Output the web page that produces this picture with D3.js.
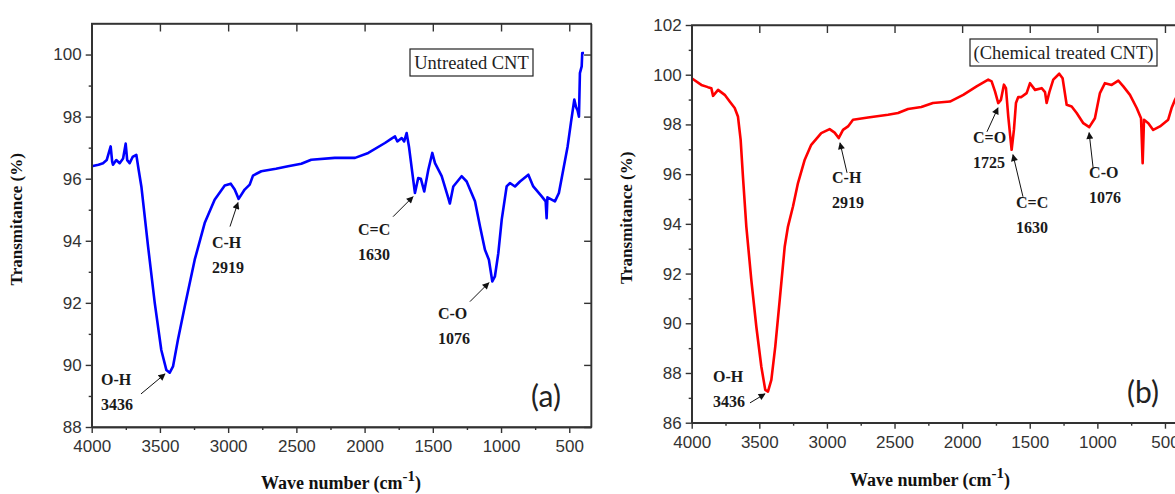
<!DOCTYPE html>
<html>
  <head>
	  <meta charset="utf-8">
	  <script src="https://d3js.org/d3.v7.min.js"></script>
	  <style type="text/css">
body{
	margin: 0;
	background: white;
}
svg{
	display: block;
}
.tick text{
	font-family: "Liberation Sans", Arial, sans-serif;
	font-size: 17px;
	fill: #333;
}
.ann{
	font-family: "Liberation Serif", "Times New Roman", serif;
	font-weight: bold;
	font-size: 16px;
	fill: #1a1a1a;
}
.title{
	font-family: "Liberation Serif", "Times New Roman", serif;
	font-weight: bold;
	font-size: 17px;
	fill: #111;
}
	  </style>
  </head>
  <body>
	<script>
		// untreated CNT (blue)
		var untreatedWn = [4000, 3950, 3917, 3890, 3861, 3850, 3844, 3820, 3795, 3770, 3751, 3740, 3722, 3700, 3673, 3656, 3636, 3617, 3587, 3538, 3490, 3453, 3428, 3404, 3368, 3318, 3245, 3172, 3099, 3025, 2981, 2952, 2923, 2879, 2842, 2818, 2757, 2650, 2561, 2464, 2391, 2219, 2070, 1973, 1851, 1800, 1777, 1760, 1728, 1710, 1692, 1675, 1650, 1631, 1607, 1588, 1563, 1533, 1504, 1484, 1435, 1387, 1375, 1350, 1289, 1252, 1191, 1154, 1118, 1089, 1064, 1045, 1020, 995, 959, 935, 898, 861, 800, 764, 702, 673, 666, 660, 605, 576, 544, 512, 488, 463, 450, 439, 429, 422, 409, 405, 392];
		var untreatedT  = [96.40, 96.45, 96.50, 96.60, 97.04, 96.55, 96.45, 96.60, 96.50, 96.65, 97.13, 96.60, 96.50, 96.70, 96.77, 96.29, 95.75, 95.00, 93.82, 92.00, 90.48, 89.84, 89.75, 89.95, 90.81, 91.88, 93.39, 94.57, 95.32, 95.78, 95.84, 95.65, 95.35, 95.65, 95.81, 96.10, 96.24, 96.32, 96.40, 96.48, 96.61, 96.67, 96.67, 96.83, 97.15, 97.30, 97.36, 97.20, 97.31, 97.20, 97.47, 97.04, 96.18, 95.54, 96.02, 96.00, 95.59, 96.29, 96.83, 96.50, 96.08, 95.38, 95.20, 95.75, 96.08, 95.91, 95.27, 94.46, 93.71, 93.39, 92.69, 92.85, 93.60, 94.68, 95.75, 95.86, 95.75, 95.91, 96.13, 95.75, 95.43, 95.27, 94.73, 95.40, 95.27, 95.54, 96.29, 97.04, 97.80, 98.55, 98.30, 98.20, 98.00, 99.40, 99.62, 100.05, 100.05];

		// chemical treated CNT (red)
		var treatedWn = [4000, 3929, 3880, 3855, 3842, 3805, 3756, 3719, 3682, 3658, 3638, 3621, 3596, 3559, 3522, 3485, 3456, 3436, 3411, 3382, 3349, 3312, 3288, 3251, 3214, 3164, 3116, 3042, 2980, 2943, 2913, 2881, 2844, 2807, 2696, 2548, 2474, 2400, 2302, 2216, 2090, 1992, 1893, 1807, 1782, 1757, 1733, 1713, 1691, 1676, 1659, 1634, 1617, 1602, 1585, 1562, 1523, 1498, 1461, 1412, 1387, 1375, 1355, 1326, 1282, 1257, 1227, 1190, 1153, 1104, 1060, 1018, 981, 944, 894, 845, 808, 759, 709, 677, 665, 655, 623, 587, 537, 476, 451, 426, 405];
		var treatedT  = [99.86, 99.59, 99.50, 99.46, 99.15, 99.39, 99.19, 98.92, 98.66, 98.32, 97.38, 95.90, 93.89, 91.74, 89.86, 88.25, 87.32, 87.25, 87.72, 89.06, 90.94, 93.09, 93.89, 94.70, 95.64, 96.58, 97.18, 97.65, 97.81, 97.67, 97.45, 97.78, 97.92, 98.19, 98.28, 98.39, 98.46, 98.62, 98.70, 98.86, 98.92, 99.19, 99.53, 99.80, 99.73, 99.33, 98.86, 98.99, 99.60, 99.46, 98.32, 96.98, 97.78, 98.86, 99.10, 99.10, 99.26, 99.66, 99.39, 99.46, 99.30, 98.86, 99.30, 99.80, 100.04, 99.86, 98.79, 98.72, 98.46, 98.05, 97.89, 98.25, 99.26, 99.66, 99.59, 99.76, 99.53, 99.19, 98.66, 98.25, 96.44, 98.19, 98.05, 97.78, 97.92, 98.19, 98.66, 98.99, 99.20];

		var xTicks = [4000, 3500, 3000, 2500, 2000, 1500, 1000, 500];
		var xMinor = [3750, 3250, 2750, 2250, 1750, 1250, 750];
		var yTicksA = [88, 90, 92, 94, 96, 98, 100];
		var yTicksB = [86, 88, 90, 92, 94, 96, 98, 100, 102];

		// peak labels: tip at [wn, T], tail / text offsets in px
		var annA = [
			{name:"O-H", num:"3436", wn:3463, t:89.71, tail:[-24, 20], txt:[-64, 11]},
			{name:"C-H", num:"2919", wn:2928, t:95.23, tail:[-8, 24], txt:[-26, 45]},
			{name:"C=C", num:"1630", wn:1645, t:95.42, tail:[-20, 20], txt:[-55, 38]},
			{name:"C-O", num:"1076", wn:1089, t:92.65, tail:[-19, 19], txt:[-51, 36]}
		];
		var annB = [
			{name:"O-H", num:"3436", wn:3458, t:87.16, tail:[-15, 9], txt:[-52, -12]},
			{name:"C-H", num:"2919", wn:2903, t:97.26, tail:[7, 30], txt:[-8, 40]},
			{name:"C=O", num:"1725", wn:1735, t:98.67, tail:[-11, 24], txt:[-25, 35]},
			{name:"C=C", num:"1630", wn:1624, t:96.78, tail:[10, 42], txt:[3, 53]},
			{name:"C-O", num:"1076", wn:1061, t:97.67, tail:[4, 35], txt:[0, 45]}
		];

		var width = 1175, height = 494;
		var svg = d3.select("body").append("svg")
			.attr("width", width)
			.attr("height", height);

		svg.append("defs").append("marker")
			.attr("id", "head")
			.attr("viewBox", "0 0 10 10")
			.attr("refX", 9).attr("refY", 5)
			.attr("markerWidth", 9).attr("markerHeight", 7)
			.attr("markerUnits", "userSpaceOnUse")
			.attr("orient", "auto")
			.append("path").attr("d", "M0,0 L10,5 L0,10 z").attr("fill", "#111");

		var panels = [
			{wn: untreatedWn, t: untreatedT, color: "#0000ff", left: 91.7, right: 591.1, top: 23.5, bottom: 427,
			 yDom: [88, 101], yTicks: yTicksA, ann: annA, legend: "Untreated CNT", legendBox: [410, 49, 123, 27],
			 tag: "(a)", tagPos: [546, 407], yTitleX: 22, xTitleX: 341, xTitleY: 489},
			{wn: treatedWn, t: treatedT, color: "#ff0000", left: 691.7, right: 1186.6, top: 25, bottom: 422.7,
			 yDom: [86, 102], yTicks: yTicksB, ann: annB, legend: "(Chemical treated CNT)", legendBox: [970, 39, 187, 27],
			 tag: "(b)", tagPos: [1143, 403], yTitleX: 632, xTitleX: 930, xTitleY: 486}
		];

		panels.forEach(function(p){
			var x = d3.scaleLinear().domain([4000, 340]).range([p.left, p.right]);
			var y = d3.scaleLinear().domain(p.yDom).range([p.bottom, p.top]);
			var g = svg.append("g");

			// curve
			var pts = p.wn.map(function(w, i){ return [w, p.t[i]]; });
			var line = d3.line().x(function(d){ return x(d[0]); }).y(function(d){ return y(d[1]); });
			g.append("path")
				.datum(pts)
				.attr("d", line)
				.attr("fill", "none")
				.attr("stroke", p.color)
				.attr("stroke-width", 2.6)
				.attr("stroke-linejoin", "round");

			// axes
			g.append("g").attr("transform", "translate(0," + p.bottom + ")")
				.call(d3.axisBottom(x).tickValues(xTicks).tickFormat(d3.format("d")).tickSize(6).tickSizeOuter(0).tickPadding(7));
			g.append("g").attr("transform", "translate(0," + p.bottom + ")")
				.call(d3.axisBottom(x).tickValues(xMinor).tickFormat("").tickSize(3).tickSizeOuter(0));
			var minorY = d3.range(p.yDom[0] + 1, p.yDom[1], 2);
			g.append("g").attr("transform", "translate(" + p.left + ",0)")
				.call(d3.axisLeft(y).tickValues(p.yTicks).tickFormat(d3.format("d")).tickSize(6).tickSizeOuter(0).tickPadding(4));
			g.append("g").attr("transform", "translate(" + p.left + ",0)")
				.call(d3.axisLeft(y).tickValues(minorY).tickFormat("").tickSize(3).tickSizeOuter(0));
			g.append("g").attr("transform", "translate(0," + p.top + ")")
				.call(d3.axisBottom(x).tickValues(xTicks).tickFormat("").tickSize(8).tickSizeOuter(0));
			g.append("g").attr("transform", "translate(" + p.right + ",0)")
				.call(d3.axisLeft(y).tickValues(p.yTicks).tickFormat("").tickSize(7).tickSizeOuter(0));
			g.selectAll(".domain, .tick line").attr("stroke", "#333").attr("stroke-width", 1.4);

			// frame
			g.append("rect")
				.attr("x", p.left).attr("y", p.top)
				.attr("width", p.right - p.left).attr("height", p.bottom - p.top)
				.attr("fill", "none").attr("stroke", "#333").attr("stroke-width", 1.4);

			// annotations
			p.ann.forEach(function(a){
				var tx = x(a.wn), ty = y(a.t);
				g.append("line")
					.attr("x1", tx + a.tail[0]).attr("y1", ty + a.tail[1])
					.attr("x2", tx).attr("y2", ty)
					.attr("stroke", "#111").attr("stroke-width", 1)
					.attr("marker-end", "url(#head)");
				g.append("text").attr("class", "ann")
					.attr("x", tx + a.txt[0]).attr("y", ty + a.txt[1])
					.text(a.name);
				g.append("text").attr("class", "ann")
					.attr("x", tx + a.txt[0]).attr("y", ty + a.txt[1] + 25)
					.text(a.num);
			});

			// legend box
			var b = p.legendBox;
			g.append("rect").attr("x", b[0]).attr("y", b[1]).attr("width", b[2]).attr("height", b[3])
				.attr("fill", "white").attr("stroke", "#222").attr("stroke-width", 1.2);
			g.append("text")
				.attr("x", b[0] + b[2] / 2).attr("y", b[1] + b[3] / 2 + 6)
				.attr("text-anchor", "middle")
				.attr("font-family", "Liberation Serif, Times New Roman, serif")
				.attr("font-size", 18.5)
				.attr("fill", "#222")
				.text(p.legend);

			// panel tag
			g.append("text")
				.attr("x", p.tagPos[0]).attr("y", p.tagPos[1])
				.attr("text-anchor", "middle")
				.attr("font-family", "Lato, Open Sans, sans-serif")
				.attr("font-size", 30)
				.attr("fill", "#222")
				.text(p.tag);

			// axis titles
			g.append("text").attr("class", "title")
				.attr("transform", "translate(" + p.yTitleX + "," + ((p.top + p.bottom) / 2 - 6) + ") rotate(-90)")
				.attr("text-anchor", "middle")
				.text("Transmitance (%)");
			var xt = g.append("text").attr("class", "title")
				.attr("x", p.xTitleX).attr("y", p.xTitleY)
				.attr("text-anchor", "middle")
				.style("font-size", "18px");
			xt.append("tspan").text("Wave number (cm");
			xt.append("tspan").attr("dy", -8).style("font-size", "15px").text("-1");
			xt.append("tspan").attr("dy", 8).text(")");
		});
	</script>
  </body>
</html>
